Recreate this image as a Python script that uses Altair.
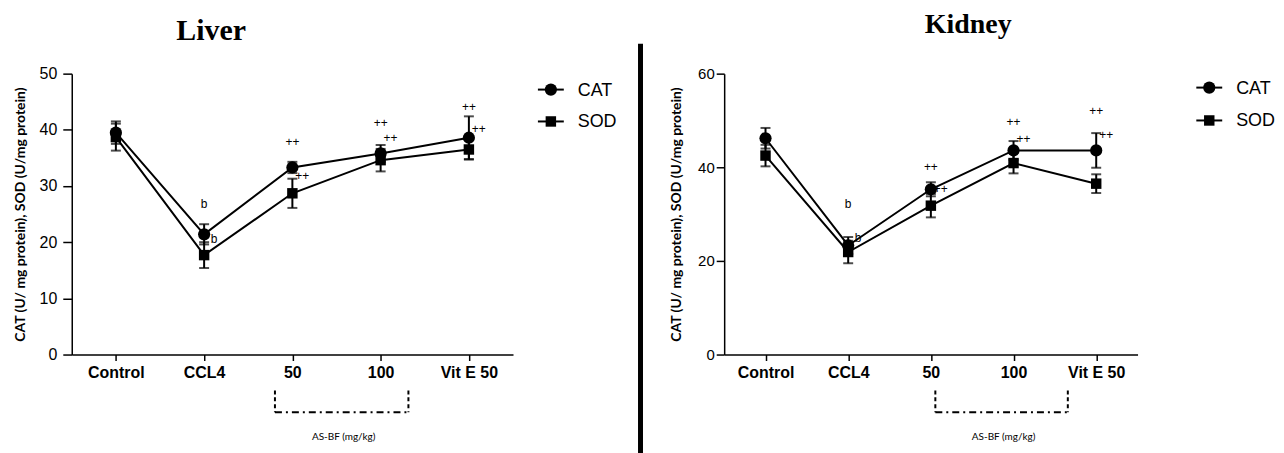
import altair as alt
import pandas as pd

groups = ["Control", "CCL4", "50", "100", "Vit E 50"]
series = ["CAT", "SOD"]

liver_cat = [39.5, 21.4, 33.3, 35.8, 38.6]
liver_cat_sd = [2.0, 1.8, 1.0, 1.5, 3.8]
liver_sod = [38.7, 17.7, 28.7, 34.6, 36.5]
liver_sod_sd = [2.4, 2.3, 2.6, 2.0, 1.8]

kidney_cat = [46.2, 23.3, 35.3, 43.6, 43.6]
kidney_cat_sd = [2.2, 1.8, 1.5, 2.0, 3.7]
kidney_sod = [42.5, 21.9, 31.8, 40.9, 36.5]
kidney_sod_sd = [2.3, 2.4, 2.5, 2.2, 2.0]

ann_groups = ["CCL4", "50", "100", "Vit E 50"]
ann_labels = ["b", "++", "++", "++"]
liver_ann_above = [26.8, 37.9, 41.3, 44.1]
liver_ann_side = [20.6, 31.8, 38.5, 40.2]
kidney_ann_above = [32.2, 40.1, 49.6, 52.0]
kidney_ann_side = [24.9, 35.3, 46.1, 46.9]

y_title = "CAT (U/ mg protein), SOD (U/mg protein)"
bracket_label = "AS-BF (mg/kg)"


def panel(title, cat, cat_sd, sod, sod_sd, ann_above, ann_side, ymax, ystep,
          w, h, tick_size, label_pad, label_size, title_pad,
          title_x, title_y, title_size, leg_x, leg_y, br_x0, br_x1, divider):
    df = pd.DataFrame({
        "group": groups * 2,
        "series": ["CAT"] * 5 + ["SOD"] * 5,
        "mean": cat + sod,
        "sd": cat_sd + sod_sd,
    })
    xenc = alt.X("group:N", sort=groups,
                 scale=alt.Scale(type="point", padding=0.5),
                 axis=alt.Axis(title=None, labelAngle=0, labelFont="Liberation Sans",
                               labelFontWeight="bold", labelFontSize=16, labelColor="black",
                               tickColor="black", domainColor="black", tickSize=6,
                               tickWidth=1.5, domainWidth=1.5, labelPadding=4))

    def yenc(field):
        return alt.Y(f"{field}:Q",
                     scale=alt.Scale(domain=[0, ymax], nice=False),
                     axis=alt.Axis(values=list(range(0, ymax + 1, ystep)), title=y_title,
                                   titleFont="Lato", titleFontSize=14, titleFontWeight="bold",
                                   titleColor="black", titlePadding=title_pad,
                                   labelFont="Liberation Sans", labelFontSize=label_size,
                                   labelColor="black", grid=False, tickSize=tick_size,
                                   tickColor="black", domainColor="black", tickWidth=1.5,
                                   domainWidth=1.5, labelPadding=label_pad))

    base = alt.Chart(df).transform_calculate(
        lo="datum.mean - datum.sd", hi="datum.mean + datum.sd")

    lines = base.mark_line(color="black", strokeWidth=2).encode(
        x=xenc, y=yenc("mean"), detail="series:N")
    err = base.mark_rule(color="black", strokeWidth=2).encode(
        x=xenc, y=yenc("lo"), y2="hi:Q")
    cap_lo = base.mark_tick(color="black", size=10, thickness=2, orient="horizontal").encode(
        x=xenc, y=yenc("lo"))
    cap_hi = base.mark_tick(color="black", size=10, thickness=2, orient="horizontal").encode(
        x=xenc, y=yenc("hi"))
    pts = base.mark_point(filled=True, color="black", opacity=1).encode(
        x=xenc, y=yenc("mean"),
        shape=alt.Shape("series:N", scale=alt.Scale(domain=series, range=["circle", "square"]), legend=None),
        size=alt.Size("series:N", scale=alt.Scale(domain=series, range=[150, 110]), legend=None))

    adf = pd.DataFrame({"group": ann_groups, "label": ann_labels,
                        "above": ann_above, "side": ann_side})
    t_above = alt.Chart(adf).mark_text(font="Liberation Sans", fontSize=12, color="black",
                                       baseline="middle").encode(
        x=xenc, y=yenc("above"), text="label:N")
    t_side = alt.Chart(adf).mark_text(font="Liberation Sans", fontSize=12, color="black",
                                      baseline="middle", dx=10).encode(
        x=xenc, y=yenc("side"), text="label:N")

    one = pd.DataFrame({"t": [title]})
    ttl = alt.Chart(one).mark_text(font="Liberation Serif", fontWeight="bold",
                                   fontSize=title_size, color="black", align="center",
                                   baseline="alphabetic").encode(
        x=alt.value(title_x), y=alt.value(title_y), text="t:N")

    layers = [lines, err, cap_lo, cap_hi, pts, t_above, t_side, ttl]

    # legend drawn as line + marker + text
    for i, (s, shp, sz) in enumerate(zip(series, ["circle", "square"], [150, 110])):
        ly = leg_y[i]
        ldf = pd.DataFrame({"t": [s]})
        layers.append(alt.Chart(ldf).mark_rule(color="black", strokeWidth=2).encode(
            x=alt.value(leg_x - 13), x2=alt.value(leg_x + 13), y=alt.value(ly)))
        layers.append(alt.Chart(ldf).mark_point(filled=True, color="black", opacity=1,
                                                shape=shp, size=sz).encode(
            x=alt.value(leg_x), y=alt.value(ly)))
        layers.append(alt.Chart(ldf).mark_text(font="Liberation Sans", fontSize=18, color="black",
                                               align="left", baseline="middle").encode(
            x=alt.value(leg_x + 27), y=alt.value(ly + 1), text="t:N"))

    # bracket under the AS-BF doses
    bdf = pd.DataFrame({"t": [bracket_label]})
    by0, by1 = h + 36, h + 58
    layers.append(alt.Chart(bdf).mark_rule(color="black", strokeWidth=2, strokeDash=[4, 3]).encode(
        x=alt.value(br_x0), y=alt.value(by0), y2=alt.value(by1)))
    layers.append(alt.Chart(bdf).mark_rule(color="black", strokeWidth=2, strokeDash=[4, 3]).encode(
        x=alt.value(br_x1), y=alt.value(by0), y2=alt.value(by1)))
    layers.append(alt.Chart(bdf).mark_rule(color="black", strokeWidth=2, strokeDash=[7, 4, 2, 4]).encode(
        x=alt.value(br_x0), x2=alt.value(br_x1), y=alt.value(by1)))
    layers.append(alt.Chart(bdf).mark_text(font="Lato", fontSize=10, color="black",
                                           align="center", baseline="middle").encode(
        x=alt.value((br_x0 + br_x1) / 2 + 2), y=alt.value(h + 83), text="t:N"))

    if divider is not None:
        layers.append(alt.Chart(one).mark_rule(color="black", strokeWidth=5).encode(
            x=alt.value(divider), y=alt.value(-30), y2=alt.value(h + 110)))

    return alt.layer(*layers).properties(width=w, height=h)


liver = panel("Liver", liver_cat, liver_cat_sd, liver_sod, liver_sod_sd,
              liver_ann_above, liver_ann_side, 50, 10, 443, 282,
              9, 6, 16, 12, 140, -34, 30, 481, [16, 48], 204, 338, None)
kidney = panel("Kidney", kidney_cat, kidney_cat_sd, kidney_sod, kidney_sod_sd,
               kidney_ann_above, kidney_ann_side, 60, 20, 415, 282,
               8, 2, 15, 14, 245, -41, 28, 487, [14, 47], 212, 345, -84)

chart = alt.hconcat(liver, kidney, spacing=212, bounds="flush").properties(
    padding={"left": 5, "top": 2, "right": 0, "bottom": 0},
    background="white"
).configure_view(stroke=None)

chart.save("out.html", embed_options={"renderer": "svg", "actions": False})
